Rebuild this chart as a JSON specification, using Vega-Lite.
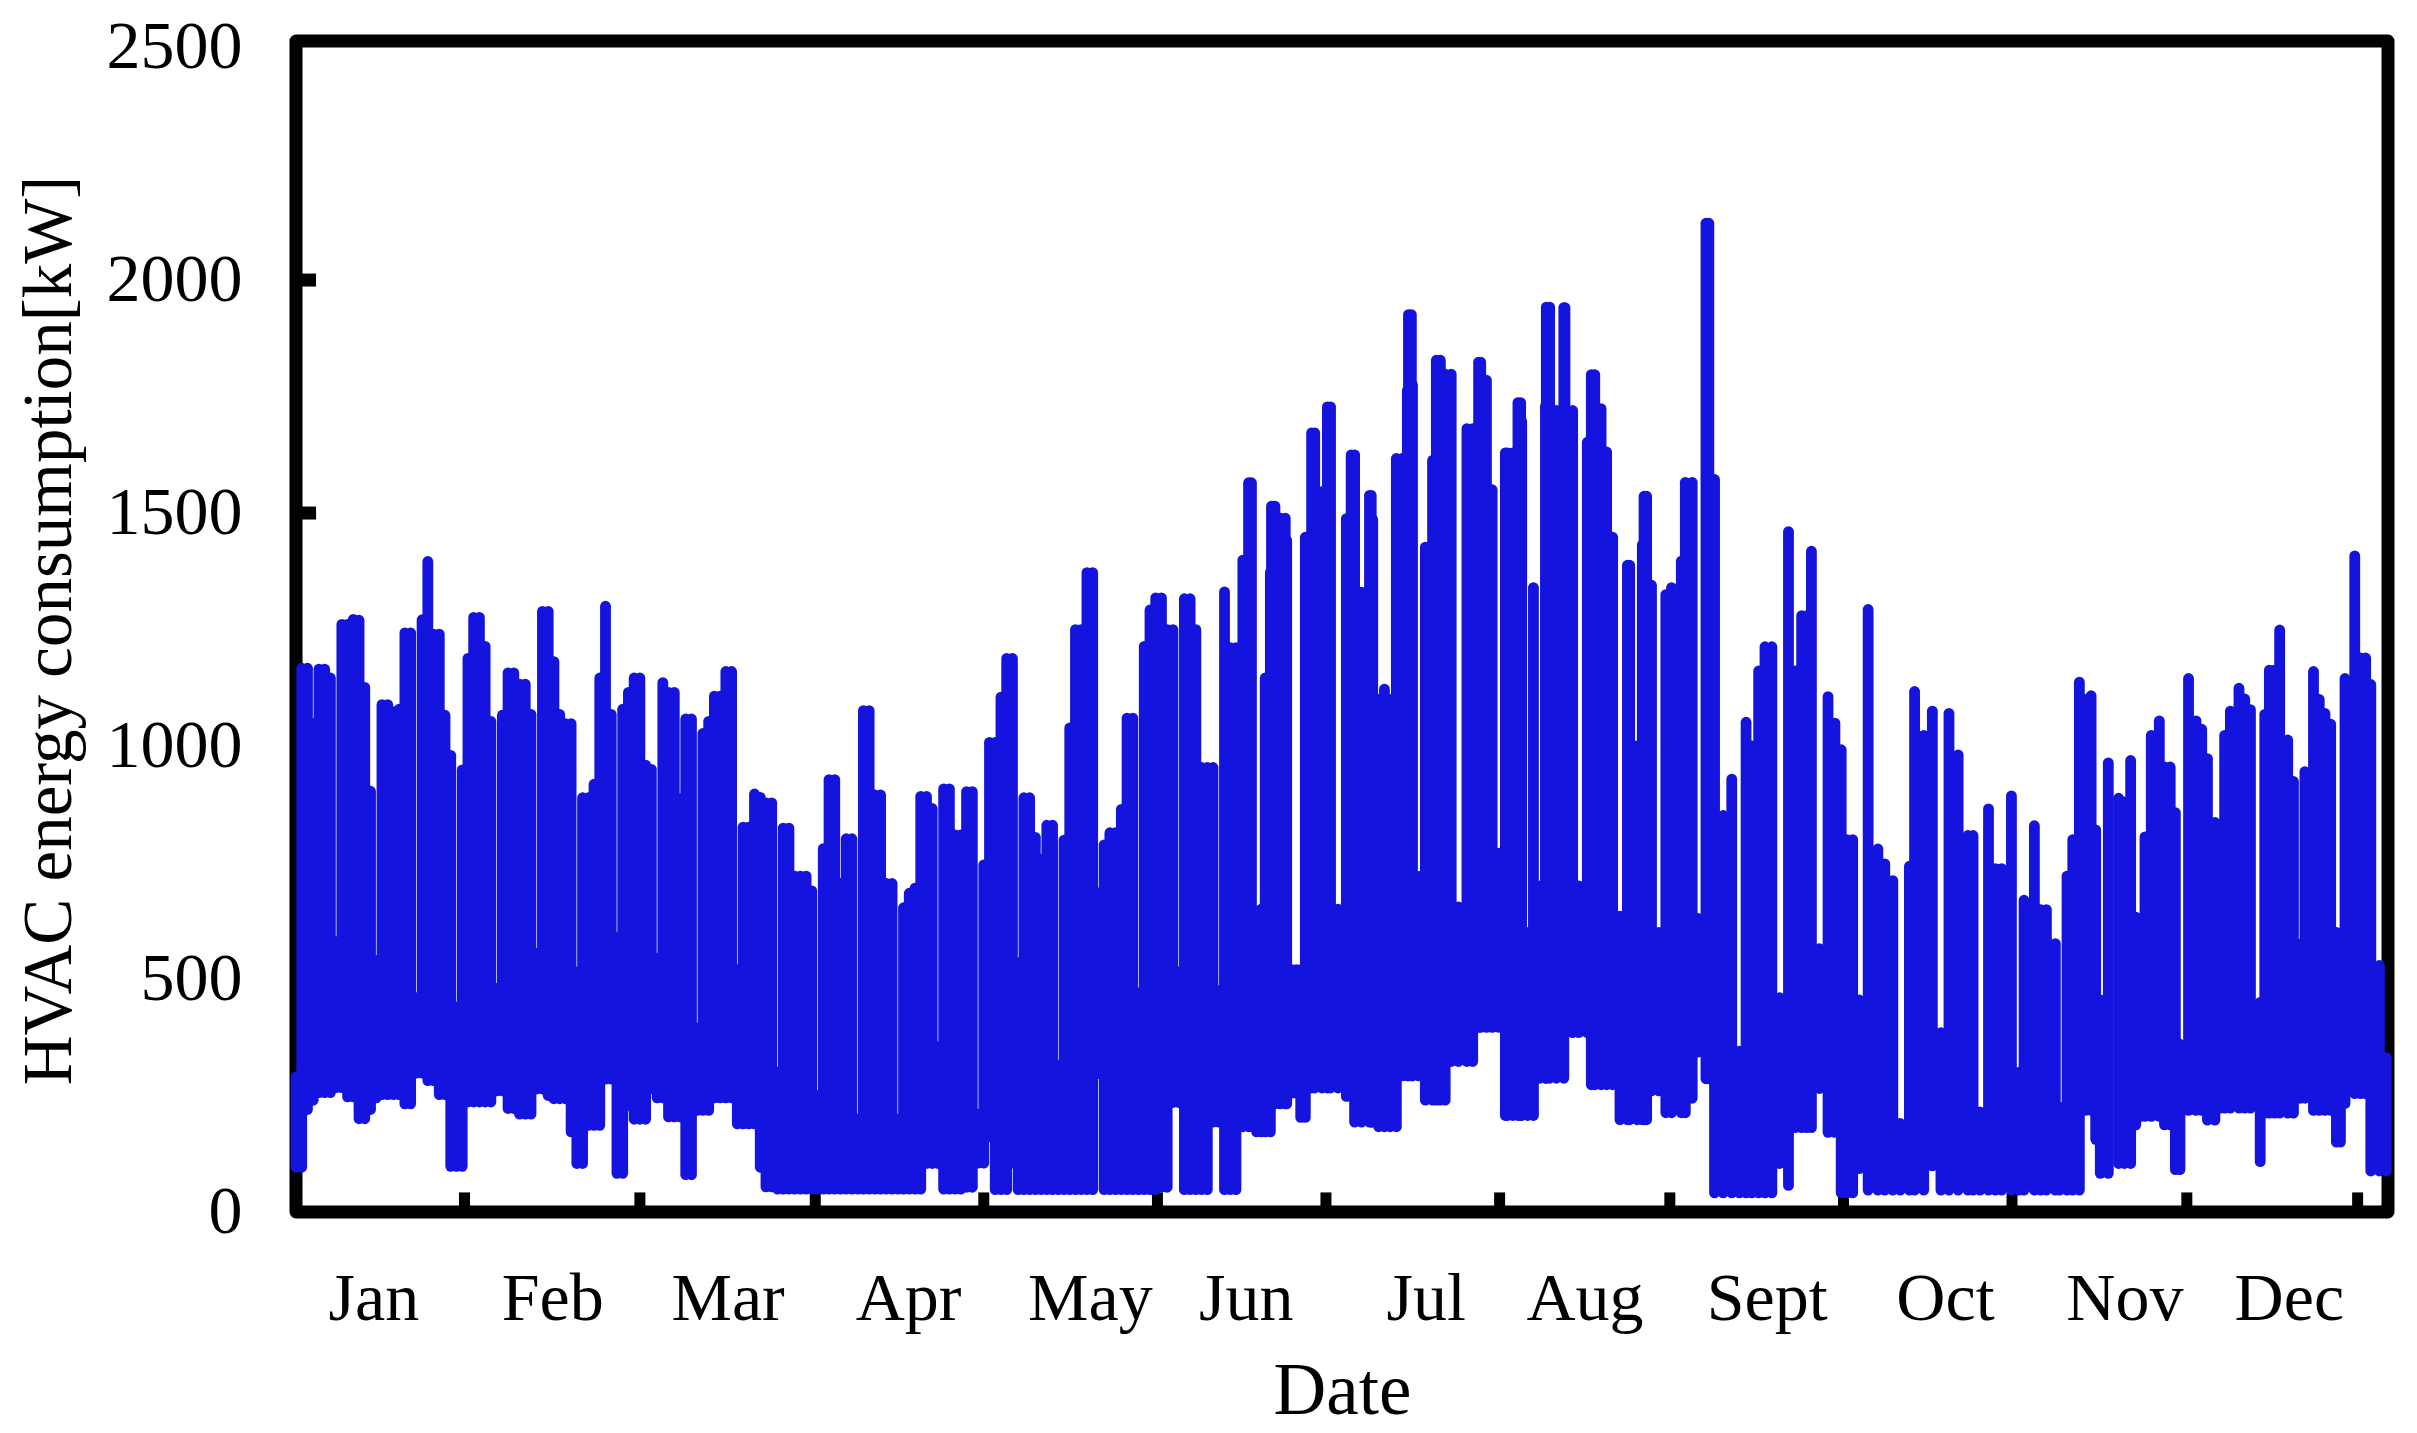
{
"$schema":"https://vega.github.io/schema/vega-lite/v6.json",
"width":2092,"height":1171,
"autosize":{"type":"none"},
"padding":{"left":296,"top":41,"right":29,"bottom":221},
"background":"white",
"config":{"view":{"stroke":"black","strokeWidth":13,"strokeJoin":"round"},"font":"Liberation Serif"},
"encoding":{
"x":{"type":"quantitative","scale":{"domain":[0,365],"nice":false,"zero":false},
"axis":{"title":"Date","values":[13.5,44.7,75.3,106.8,138.5,165.7,197.1,224.8,256.6,287.7,319,347.7],
"labelExpr":"{'13.5':'Jan','44.7':'Feb','75.3':'Mar','106.8':'Apr','138.5':'May','165.7':'Jun','197.1':'Jul','224.8':'Aug','256.6':'Sept','287.7':'Oct','319':'Nov','347.7':'Dec'}[''+datum.value]",
"grid":false,"domain":false,"ticks":false,"labelAngle":0,"labelFont":"Liberation Serif","labelFontSize":68,"labelColor":"black","labelPadding":53,"labelOverlap":false,"labelBound":false,"labelFlush":false,"titleFont":"Liberation Serif","titleFontSize":73,"titleFontWeight":"normal","titleColor":"black","titlePadding":22}},
"y":{"type":"quantitative","scale":{"domain":[0,2513],"nice":false},
"axis":{"title":"HVAC energy consumption[kW]","titleY":589,"values":[0,500,1000,1500,2000,2500],"format":"d","grid":false,"domain":false,"ticks":false,"labelFont":"Liberation Serif","labelFontSize":68,"labelColor":"black","labelPadding":54,"labelOverlap":false,"labelBound":false,"labelFlush":false,"titleFont":"Liberation Serif","titleFontSize":69,"titleFontWeight":"normal","titleColor":"black","titlePadding":22}}
},
"datasets":{
"xticks":[{"t":29.4},{"t":60},{"t":90.6},{"t":120},{"t":150.3},{"t":179.7},{"t":210},{"t":239.7},{"t":270},{"t":299.4},{"t":329.9},{"t":359.7}],
"yticks":[{"v":500},{"v":1000},{"v":1500},{"v":2000}],
"hvac":[
{"day":0,"low":96,"high":290},{"day":1,"low":96,"high":1167},{"day":2,"low":220,"high":1167},{"day":3,"low":240,"high":1048},{"day":4,"low":256,"high":1165},{"day":5,"low":256,"high":1165},{"day":6,"low":256,"high":1146},{"day":7,"low":267,"high":580},{"day":8,"low":267,"high":1261},{"day":9,"low":247,"high":1261},{"day":10,"low":247,"high":1272},{"day":11,"low":200,"high":1270},{"day":12,"low":200,"high":1126},{"day":13,"low":220,"high":903},{"day":14,"low":245,"high":540},{"day":15,"low":252,"high":1089},{"day":16,"low":252,"high":1089},{"day":17,"low":252,"high":1074},{"day":18,"low":252,"high":1079},{"day":19,"low":232,"high":1243},{"day":20,"low":232,"high":1243},{"day":21,"low":298,"high":460},{"day":22,"low":298,"high":1271},{"day":23,"low":282,"high":1396},{"day":24,"low":282,"high":1240},{"day":25,"low":252,"high":1240},{"day":26,"low":252,"high":1066},{"day":27,"low":98,"high":980},{"day":28,"low":98,"high":440},{"day":29,"low":98,"high":949},{"day":30,"low":236,"high":1188},{"day":31,"low":236,"high":1276},{"day":32,"low":236,"high":1276},{"day":33,"low":236,"high":1214},{"day":34,"low":236,"high":1053},{"day":35,"low":260,"high":480},{"day":36,"low":260,"high":1066},{"day":37,"low":222,"high":1157},{"day":38,"low":222,"high":1157},{"day":39,"low":210,"high":1133},{"day":40,"low":210,"high":1133},{"day":41,"low":210,"high":1068},{"day":42,"low":264,"high":555},{"day":43,"low":264,"high":1289},{"day":44,"low":250,"high":1289},{"day":45,"low":243,"high":1181},{"day":46,"low":243,"high":1068},{"day":47,"low":243,"high":1048},{"day":48,"low":172,"high":1048},{"day":49,"low":104,"high":515},{"day":50,"low":104,"high":889},{"day":51,"low":186,"high":889},{"day":52,"low":186,"high":918},{"day":53,"low":186,"high":1146},{"day":54,"low":285,"high":1300},{"day":55,"low":285,"high":1068},{"day":56,"low":83,"high":590},{"day":57,"low":83,"high":1079},{"day":58,"low":228,"high":1115},{"day":59,"low":199,"high":1146},{"day":60,"low":199,"high":1146},{"day":61,"low":199,"high":959},{"day":62,"low":265,"high":950},{"day":63,"low":245,"high":545},{"day":64,"low":245,"high":1136},{"day":65,"low":204,"high":1115},{"day":66,"low":204,"high":1115},{"day":67,"low":204,"high":887},{"day":68,"low":80,"high":1058},{"day":69,"low":80,"high":1058},{"day":70,"low":218,"high":395},{"day":71,"low":218,"high":1027},{"day":72,"low":218,"high":1053},{"day":73,"low":245,"high":1107},{"day":74,"low":245,"high":1107},{"day":75,"low":245,"high":1160},{"day":76,"low":245,"high":1160},{"day":77,"low":189,"high":520},{"day":78,"low":189,"high":826},{"day":79,"low":189,"high":826},{"day":80,"low":189,"high":897},{"day":81,"low":96,"high":890},{"day":82,"low":54,"high":878},{"day":83,"low":54,"high":878},{"day":84,"low":49,"high":300},{"day":85,"low":49,"high":824},{"day":86,"low":49,"high":824},{"day":87,"low":49,"high":721},{"day":88,"low":49,"high":721},{"day":89,"low":49,"high":721},{"day":90,"low":49,"high":689},{"day":91,"low":49,"high":250},{"day":92,"low":49,"high":780},{"day":93,"low":49,"high":928},{"day":94,"low":49,"high":928},{"day":95,"low":49,"high":705},{"day":96,"low":49,"high":801},{"day":97,"low":49,"high":801},{"day":98,"low":49,"high":200},{"day":99,"low":49,"high":1076},{"day":100,"low":49,"high":1076},{"day":101,"low":49,"high":895},{"day":102,"low":49,"high":895},{"day":103,"low":49,"high":705},{"day":104,"low":49,"high":705},{"day":105,"low":49,"high":200},{"day":106,"low":49,"high":653},{"day":107,"low":49,"high":684},{"day":108,"low":49,"high":695},{"day":109,"low":49,"high":892},{"day":110,"low":104,"high":892},{"day":111,"low":104,"high":866},{"day":112,"low":104,"high":355},{"day":113,"low":49,"high":908},{"day":114,"low":49,"high":908},{"day":115,"low":49,"high":809},{"day":116,"low":49,"high":809},{"day":117,"low":53,"high":902},{"day":118,"low":53,"high":902},{"day":119,"low":105,"high":210},{"day":120,"low":105,"high":745},{"day":121,"low":162,"high":1008},{"day":122,"low":48,"high":1008},{"day":123,"low":48,"high":1105},{"day":124,"low":48,"high":1188},{"day":125,"low":105,"high":1188},{"day":126,"low":48,"high":535},{"day":127,"low":48,"high":889},{"day":128,"low":48,"high":889},{"day":129,"low":48,"high":804},{"day":130,"low":48,"high":757},{"day":131,"low":48,"high":830},{"day":132,"low":48,"high":830},{"day":133,"low":48,"high":315},{"day":134,"low":48,"high":798},{"day":135,"low":48,"high":1039},{"day":136,"low":48,"high":1250},{"day":137,"low":48,"high":1250},{"day":138,"low":48,"high":1372},{"day":139,"low":48,"high":1372},{"day":140,"low":297,"high":685},{"day":141,"low":48,"high":788},{"day":142,"low":48,"high":814},{"day":143,"low":48,"high":814},{"day":144,"low":48,"high":864},{"day":145,"low":48,"high":1060},{"day":146,"low":48,"high":1060},{"day":147,"low":48,"high":470},{"day":148,"low":48,"high":1214},{"day":149,"low":48,"high":1292},{"day":150,"low":48,"high":1318},{"day":151,"low":53,"high":1318},{"day":152,"low":53,"high":1250},{"day":153,"low":235,"high":1250},{"day":154,"low":235,"high":515},{"day":155,"low":48,"high":1316},{"day":156,"low":48,"high":1316},{"day":157,"low":48,"high":1250},{"day":158,"low":48,"high":954},{"day":159,"low":48,"high":954},{"day":160,"low":193,"high":954},{"day":161,"low":193,"high":475},{"day":162,"low":48,"high":1331},{"day":163,"low":48,"high":1211},{"day":164,"low":48,"high":1211},
{"day":165.2,"low":183,"high":1399},{"day":166.2,"low":183,"high":1565},{"day":166.7,"low":183,"high":1565},{"day":167.6,"low":172,"high":640},{"day":168.4,"low":172,"high":650},{"day":169.1,"low":172,"high":1146},{"day":170,"low":172,"high":1373},{"day":170.2,"low":232,"high":1515},{"day":170.8,"low":232,"high":1515},{"day":171.7,"low":232,"high":1489},{"day":172.6,"low":232,"high":1489},{"day":172.85,"low":232,"high":1441},{"day":173.7,"low":255,"high":520},{"day":174.5,"low":255,"high":520},{"day":175.3,"low":203,"high":520},{"day":176.1,"low":203,"high":1448},{"day":177.2,"low":266,"high":1672},{"day":177.74,"low":266,"high":1672},{"day":179,"low":266,"high":1546},{"day":179.95,"low":266,"high":1728},{"day":180.5,"low":266,"high":1728},{"day":181.8,"low":266,"high":650},{"day":183.26,"low":248,"high":1488},{"day":184.1,"low":248,"high":1625},{"day":184.7,"low":193,"high":1625},{"day":185.9,"low":193,"high":1330},{"day":187.3,"low":193,"high":1538},{"day":187.6,"low":193,"high":1538},{"day":187.86,"low":193,"high":1486},{"day":188.9,"low":183,"high":1100},{"day":189.9,"low":183,"high":1122},{"day":190.9,"low":183,"high":1100},{"day":191.98,"low":183,"high":1617},{"day":193,"low":292,"high":1617},{"day":193.9,"low":292,"high":1763},{"day":194.1,"low":292,"high":1926},{"day":194.6,"low":292,"high":1926},{"day":194.8,"low":292,"high":1775},{"day":195.9,"low":292,"high":720},{"day":197.04,"low":240,"high":1427},{"day":198.3,"low":240,"high":1613},{"day":198.96,"low":240,"high":1828},{"day":199.66,"low":240,"high":1828},{"day":200.5,"low":240,"high":1798},{"day":201.55,"low":323,"high":1798},{"day":202.8,"low":323,"high":655},{"day":204.3,"low":323,"high":1681},{"day":205.3,"low":323,"high":1681},{"day":206.34,"low":396,"high":1824},{"day":206.7,"low":396,"high":1824},{"day":207.7,"low":396,"high":1785},{"day":208.7,"low":396,"high":1550},{"day":209.9,"low":396,"high":770},{"day":211,"low":207,"high":1629},{"day":211.35,"low":207,"high":1629},{"day":212.3,"low":207,"high":1629},{"day":213.2,"low":207,"high":1737},{"day":213.67,"low":207,"high":1737},{"day":213.85,"low":207,"high":1697},{"day":214.9,"low":207,"high":600},{"day":215.9,"low":207,"high":1340},{"day":217,"low":287,"high":700},{"day":218,"low":287,"high":1729},{"day":218.15,"low":287,"high":1942},{"day":218.73,"low":287,"high":1942},{"day":219.9,"low":287,"high":1720},{"day":221.2,"low":287,"high":1941},{"day":221.4,"low":385,"high":1941},{"day":222.74,"low":385,"high":1720},{"day":223.8,"low":385,"high":700},{"day":225.3,"low":385,"high":1652},{"day":226,"low":273,"high":1797},{"day":226.6,"low":273,"high":1797},{"day":227.7,"low":273,"high":1724},{"day":228.67,"low":273,"high":1631},{"day":229.72,"low":273,"high":1448},{"day":231,"low":198,"high":635},{"day":232.3,"low":198,"high":1388},{"day":232.7,"low":198,"high":1388},{"day":234,"low":198,"high":1000},{"day":234.9,"low":198,"high":1432},{"day":235.2,"low":198,"high":1536},{"day":235.65,"low":198,"high":1536},{"day":236.5,"low":260,"high":1345},{"day":237.8,"low":260,"high":600},{"day":239,"low":213,"high":1325},{"day":240,"low":213,"high":1340},{"day":241.7,"low":213,"high":1397},{"day":242.4,"low":213,"high":1566},{"day":243.6,"low":244,"high":1566},{"day":244.6,"low":343,"high":630},{"day":246,"low":286,"high":2122},{"day":246.5,"low":286,"high":2122},{"day":247.5,"low":41,"high":1572},{"day":249,"low":41,"high":851},{"day":250.5,"low":41,"high":929},{"day":251.85,"low":41,"high":345},{"day":253,"low":41,"high":1051},{"day":254,"low":41,"high":1000},{"day":255.2,"low":41,"high":1161},{"day":256.3,"low":41,"high":1213},{"day":257.5,"low":41,"high":1213},{"day":258.85,"low":104,"high":460},{"day":260.4,"low":57,"high":1460},{"day":261.6,"low":181,"high":1161},{"day":262.7,"low":181,"high":1280},{"day":263.6,"low":181,"high":1280},{"day":264.4,"low":181,"high":1418},{"day":265.8,"low":265,"high":565},{"day":267.3,"low":171,"high":1106},{"day":268.5,"low":171,"high":1049},{"day":269.6,"low":41,"high":992},{"day":270.6,"low":41,"high":799},{"day":271.6,"low":41,"high":799},{"day":272.75,"low":93,"high":455},{"day":274.3,"low":47,"high":1293},{"day":276,"low":47,"high":779},{"day":277.2,"low":47,"high":747},{"day":278.6,"low":47,"high":711},{"day":279.9,"low":47,"high":190},{"day":281.5,"low":47,"high":742},{"day":282.4,"low":47,"high":1117},{"day":284,"low":47,"high":1023},{"day":285.5,"low":99,"high":1075},{"day":287,"low":47,"high":385},{"day":288.4,"low":47,"high":1070},{"day":290,"low":47,"high":981},{"day":291.7,"low":47,"high":808},{"day":292.6,"low":47,"high":808},{"day":293.8,"low":47,"high":215},{"day":295.3,"low":47,"high":865},{"day":296.5,"low":47,"high":737},{"day":297.6,"low":47,"high":737},{"day":299.3,"low":47,"high":893},{"day":300.65,"low":47,"high":300},{"day":301.5,"low":47,"high":669},{"day":303.3,"low":47,"high":829},{"day":304.4,"low":47,"high":649},{"day":305.4,"low":47,"high":649},{"day":306.96,"low":47,"high":576},{"day":307.7,"low":47,"high":225},{"day":309,"low":47,"high":721},{"day":310,"low":47,"high":799},{"day":311.15,"low":47,"high":1137},{"day":312.2,"low":218,"high":1100},{"day":313.2,"low":218,"high":1108},{"day":314,"low":156,"high":820},{"day":314.8,"low":83,"high":455},{"day":316.2,"low":83,"high":964},{"day":318,"low":104,"high":888},{"day":319,"low":104,"high":880},{"day":320.1,"low":104,"high":969},{"day":321,"low":187,"high":633},{"day":321.8,"low":205,"high":355},{"day":322.6,"low":205,"high":805},{"day":323.7,"low":205,"high":1023},{"day":325.1,"low":205,"high":1054},{"day":326,"low":187,"high":955},{"day":327,"low":187,"high":955},{"day":327.9,"low":91,"high":857},{"day":328.7,"low":91,"high":360},{"day":330.2,"low":218,"high":1145},{"day":331.5,"low":218,"high":1054},{"day":332.5,"low":218,"high":1036},{"day":333.5,"low":197,"high":973},{"day":334.8,"low":197,"high":836},{"day":335.7,"low":223,"high":440},{"day":336.5,"low":223,"high":1023},{"day":337.5,"low":223,"high":1075},{"day":339,"low":223,"high":1124},{"day":340,"low":223,"high":1101},{"day":341,"low":223,"high":1078},{"day":342.7,"low":108,"high":450},{"day":343.5,"low":212,"high":1068},{"day":344.3,"low":212,"high":1163},{"day":345.2,"low":212,"high":1163},{"day":346.1,"low":212,"high":1249},{"day":347.5,"low":212,"high":1013},{"day":348.5,"low":212,"high":924},{"day":349.7,"low":244,"high":575},{"day":350.5,"low":244,"high":945},{"day":352,"low":218,"high":1160},{"day":353,"low":218,"high":1100},{"day":354,"low":218,"high":1070},{"day":355,"low":218,"high":1047},{"day":356,"low":150,"high":600},{"day":356.7,"low":150,"high":445},{"day":357.5,"low":233,"high":1145},{"day":359.2,"low":254,"high":1408},{"day":360.2,"low":254,"high":1189},{"day":361.1,"low":254,"high":1189},{"day":362,"low":88,"high":1132},{"day":363.5,"low":88,"high":529},{"day":364.7,"low":88,"high":331}
]},
"layer":[
{"data":{"name":"xticks"},"mark":{"type":"rule","color":"black","strokeWidth":11},
"encoding":{"x":{"field":"t"},"y":{"datum":0},"y2":{"datum":42}}},
{"data":{"name":"yticks"},"mark":{"type":"rule","color":"black","strokeWidth":13},
"encoding":{"y":{"field":"v"},"x":{"datum":0},"x2":{"datum":3.5}}},
{"data":{"name":"hvac"},"mark":{"type":"rule","color":"#1414DE","strokeWidth":10.8,"strokeCap":"round","clip":false},
"encoding":{"x":{"field":"day"},"y":{"field":"low"},"y2":{"field":"high"}}}
]
}
